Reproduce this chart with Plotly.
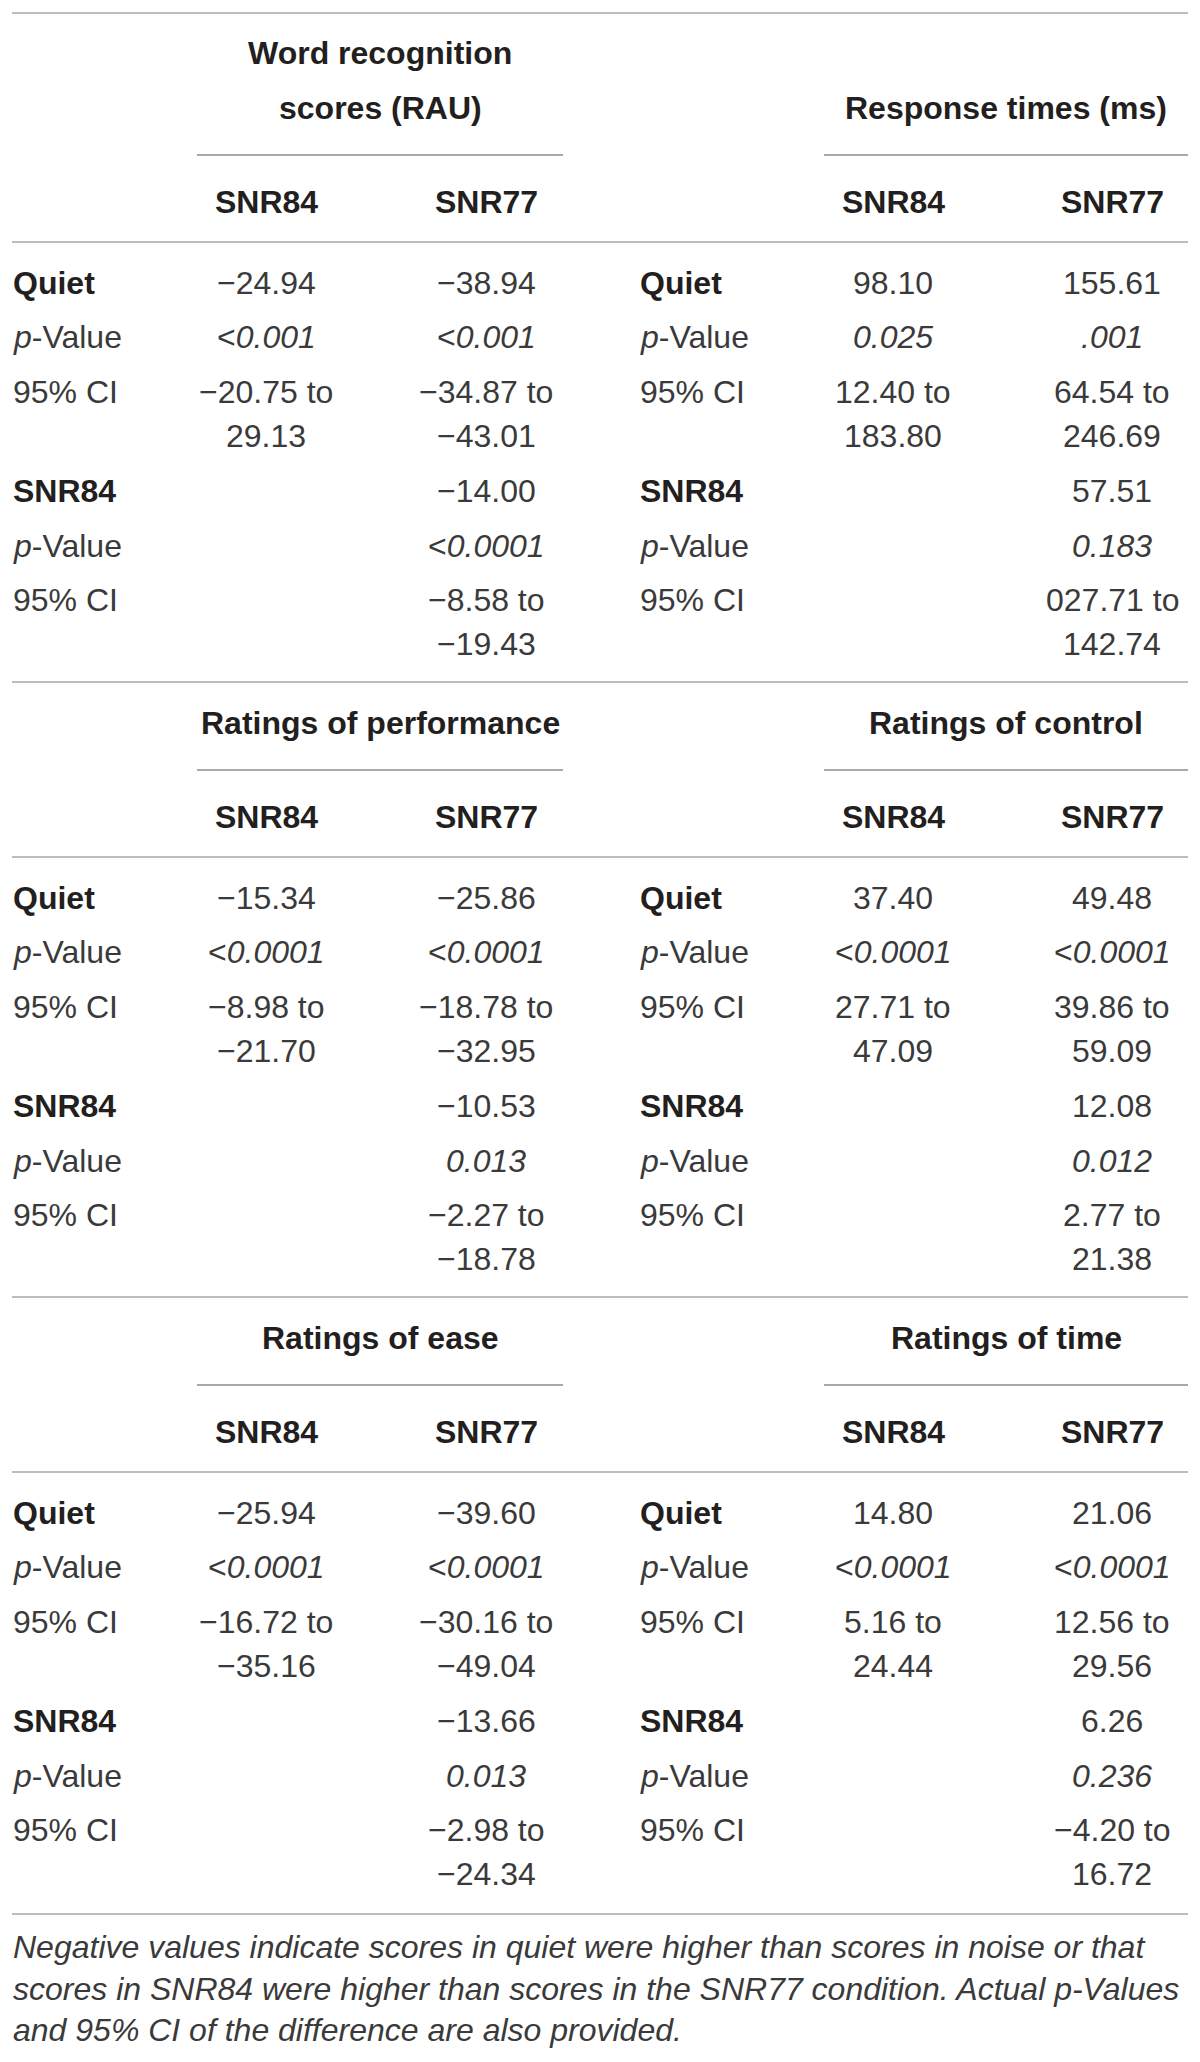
import plotly.graph_objects as go

W, H = 1200, 2062

# ---- table contents ----
col_labels = ["SNR84", "SNR77"]
row_labels = ["Quiet", "p-Value", "95% CI", "SNR84", "p-Value", "95% CI"]

left_titles = ["Word recognition<br>scores (RAU)", "Ratings of performance", "Ratings of ease"]
right_titles = ["Response times (ms)", "Ratings of control", "Ratings of time"]

# order in each list: Quiet vs SNR84, Quiet vs SNR77, SNR84 vs SNR77
word_diff = ["−24.94", "−38.94", "−14.00"]
word_p = ["<0.001", "<0.001", "<0.0001"]
word_ci = [["−20.75 to", "29.13"], ["−34.87 to", "−43.01"], ["−8.58 to", "−19.43"]]

rt_diff = ["98.10", "155.61", "57.51"]
rt_p = ["0.025", ".001", "0.183"]
rt_ci = [["12.40 to", "183.80"], ["64.54 to", "246.69"], ["027.71 to", "142.74"]]

perf_diff = ["−15.34", "−25.86", "−10.53"]
perf_p = ["<0.0001", "<0.0001", "0.013"]
perf_ci = [["−8.98 to", "−21.70"], ["−18.78 to", "−32.95"], ["−2.27 to", "−18.78"]]

control_diff = ["37.40", "49.48", "12.08"]
control_p = ["<0.0001", "<0.0001", "0.012"]
control_ci = [["27.71 to", "47.09"], ["39.86 to", "59.09"], ["2.77 to", "21.38"]]

ease_diff = ["−25.94", "−39.60", "−13.66"]
ease_p = ["<0.0001", "<0.0001", "0.013"]
ease_ci = [["−16.72 to", "−35.16"], ["−30.16 to", "−49.04"], ["−2.98 to", "−24.34"]]

time_diff = ["14.80", "21.06", "6.26"]
time_p = ["<0.0001", "<0.0001", "0.236"]
time_ci = [["5.16 to", "24.44"], ["12.56 to", "29.56"], ["−4.20 to", "16.72"]]

footnote = ["Negative values indicate scores in quiet were higher than scores in noise or that",
            "scores in SNR84 were higher than scores in the SNR77 condition. Actual p-Values",
            "and 95% CI of the difference are also provided."]

sections = [
    ((word_diff, word_p, word_ci), (rt_diff, rt_p, rt_ci)),
    ((perf_diff, perf_p, perf_ci), (control_diff, control_p, control_ci)),
    ((ease_diff, ease_p, ease_ci), (time_diff, time_p, time_ci)),
]

# ---- layout ----
FONT = "Liberation Sans"
FS = 32
DARK = "#231f20"
BODY = "#3a3a3a"
RULE = "#bdbdbd"
SUB = "#8c8c8c"
PAD = 8  # page body margin: keep page-pixel coordinates below

X0, X1 = 12, 1188
blocks = [
    dict(label_x=11, cols=[266, 486], line=(197, 563)),
    dict(label_x=638, cols=[893, 1112], line=(824, 1188)),
]
rule_y = [13, 682, 1297, 1914]
row_off = [41, 95, 150, 194, 249, 304, 358, 402]

fig = go.Figure()
ann = []
shapes = []


def txt(x, y, s, anchor="center", bold=False, color=BODY, size=FS):
    if bold:
        s = "<b>" + s + "</b>"
    ann.append(dict(x=x, y=y, xref="x", yref="y", text=s, showarrow=False,
                    xanchor=anchor, yanchor="middle",
                    font=dict(family=FONT, size=size, color=color)))


def hline(y, xa, xb, color, width):
    shapes.append(dict(type="line", xref="x", yref="y", x0=xa, x1=xb, y0=y, y1=y,
                       line=dict(color=color, width=width)))


def fmt_p(p):
    if p.startswith("<"):
        return "&lt;<i>" + p[1:] + "</i>"
    return "<i>" + p + "</i>"


def fmt_label(lab):
    if lab == "p-Value":
        return "<i>p</i>-Value"
    return lab


for s, pair in enumerate(sections):
    top = rule_y[s]
    titles = [left_titles[s], right_titles[s]]
    n_lines = max(t.count("<br>") + 1 for t in titles)
    M = top + 121 + 54 * n_lines
    hline(top, X0, X1, RULE, 2)
    hline(M, X0, X1, RULE, 2)
    for b, blk in enumerate(blocks):
        diff, pv, ci = pair[b]
        c0, c1 = blk["cols"]
        xa, xb = blk["line"]
        # group title
        parts = titles[b].split("<br>")
        for k, part in enumerate(reversed(parts)):
            txt((xa + xb) / 2, M - 134 - 55 * k, part, bold=True, color=DARK)
        hline(M - 87, xa, xb, SUB, 1.5)
        for c, cl in zip(blk["cols"], col_labels):
            txt(c, M - 40, cl, bold=True, color=DARK)
        # row labels
        for i, lab in enumerate(row_labels):
            off = row_off[0:3][i] if i < 3 else row_off[4:7][i - 3]
            strong = lab in ("Quiet", "SNR84")
            txt(blk["label_x"], M + off, fmt_label(lab), anchor="left",
                bold=strong, color=DARK if strong else BODY)
        # cells
        cells = [(c0, 0, 0), (c1, 1, 0), (c1, 2, 4)]
        for cx, j, base in cells:
            txt(cx, M + row_off[base], diff[j])
            txt(cx, M + row_off[base + 1], fmt_p(pv[j]))
            txt(cx, M + row_off[base + 2], ci[j][0])
            txt(cx, M + row_off[base + 3], ci[j][1])

hline(rule_y[3], X0, X1, RULE, 2)
for k, line in enumerate(footnote):
    txt(X0 - 1, rule_y[3] + 33 + 41.5 * k, "<i>" + line + "</i>", anchor="left", size=32)

fig.update_layout(
    width=W, height=H,
    margin=dict(l=0, r=0, t=0, b=0),
    paper_bgcolor="white", plot_bgcolor="white",
    xaxis=dict(range=[PAD, W + PAD], visible=False, fixedrange=True),
    yaxis=dict(range=[H + PAD, PAD], visible=False, fixedrange=True),
    annotations=ann, shapes=shapes, showlegend=False,
)

fig.write_html("out.html")
